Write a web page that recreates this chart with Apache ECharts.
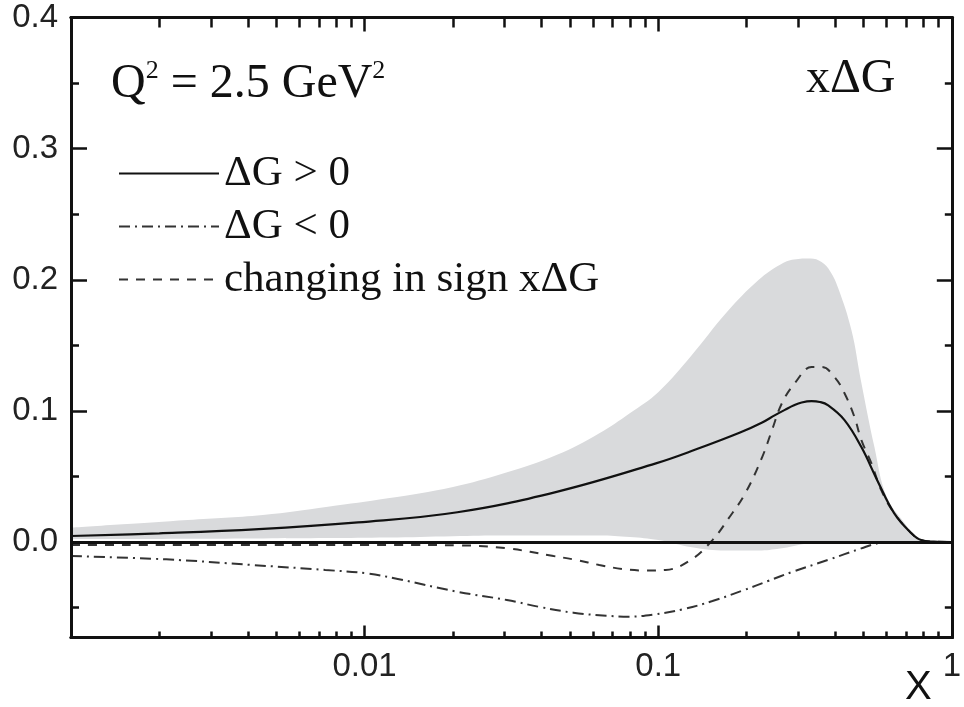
<!DOCTYPE html>
<html>
<head>
<meta charset="utf-8">
<script src="https://cdn.jsdelivr.net/npm/echarts@6/dist/echarts.min.js"></script>
<style>
  html, body { margin: 0; padding: 0; background: #fff; }
  #chart { width: 964px; height: 707px; }
</style>
</head>
<body>
<div id="chart"></div>
<script>
// ---- data ----
const xBand = [0.001, 0.0015, 0.0025, 0.0045, 0.0075, 0.012, 0.02, 0.03, 0.045, 0.063, 0.08, 0.1, 0.13, 0.17, 0.22, 0.26, 0.29, 0.33, 0.36, 0.385, 0.41, 0.455, 0.49, 0.545, 0.6, 0.69, 0.76, 0.83, 1];
const bandUpper = [0.0109, 0.0135, 0.0168, 0.0206, 0.0269, 0.0333, 0.042, 0.0526, 0.0663, 0.083, 0.0983, 0.1143, 0.1425, 0.1745, 0.2, 0.2115, 0.2155, 0.2162, 0.2135, 0.2065, 0.1937, 0.1616, 0.1234, 0.0724, 0.0343, 0.0145, 0.003, 0.0008, 0.0005];
const bandLower = [0.0023, 0.0023, 0.0025, 0.0027, 0.003, 0.0034, 0.0045, 0.005, 0.005, 0.005, 0.0038, 0.0015, -0.004, -0.0065, -0.0065, -0.005, -0.003, -0.0008, 0.0, 0.0003, 0.0004, 0.0004, 0.0004, 0.0004, 0.0004, 0.0004, 0.0004, 0.0004, 0.0004];

const xPos = [0.001, 0.002, 0.00436, 0.00949, 0.0207, 0.0451, 0.0982, 0.134, 0.19, 0.226, 0.25, 0.27, 0.29, 0.308, 0.333, 0.355, 0.378, 0.431, 0.492, 0.557, 0.636, 0.727, 0.786, 0.869, 1];
const yPos = [0.0046, 0.0066, 0.0098, 0.015, 0.0227, 0.0383, 0.060, 0.0705, 0.0835, 0.0912, 0.0968, 0.1008, 0.1043, 0.1064, 0.1074, 0.1068, 0.1044, 0.093, 0.0724, 0.0472, 0.0221, 0.0069, 0.0015, 0.0003, 0];

const xNeg = [0.001, 0.00211, 0.00413, 0.00734, 0.01026, 0.01297, 0.0207, 0.0305, 0.0395, 0.0514, 0.0665, 0.0796, 0.0959, 0.1212, 0.153, 0.1934, 0.2367, 0.2876, 0.378, 0.492, 0.557, 0.612];
const yNeg = [-0.0107, -0.0132, -0.0175, -0.0213, -0.024, -0.0282, -0.0379, -0.0442, -0.0495, -0.0539, -0.0562, -0.0569, -0.0554, -0.0513, -0.045, -0.0371, -0.0297, -0.0226, -0.0137, -0.0048, -0.001, 0];

const xSign = [0.001, 0.0148, 0.0207, 0.0305, 0.044, 0.0527, 0.063, 0.0759, 0.0907, 0.106, 0.129, 0.153, 0.173, 0.198, 0.226, 0.244, 0.264, 0.292, 0.333, 0.361, 0.399, 0.431, 0.466, 0.492, 0.532, 0.575, 0.636, 0.727, 0.786, 0.869, 1];
const ySign = [-0.0023, -0.0023, -0.0025, -0.0048, -0.0107, -0.0137, -0.0175, -0.0206, -0.0217, -0.0213, -0.0137, 0.0015, 0.0175, 0.0373, 0.0648, 0.0853, 0.106, 0.1212, 0.1334, 0.1334, 0.1257, 0.1135, 0.0953, 0.0777, 0.0602, 0.0396, 0.0221, 0.0069, 0.0015, 0.0003, 0];

const xMajorTicks = [0.001, 0.01, 0.1, 1];
const xMinorTicks = [0.002, 0.003, 0.004, 0.005, 0.006, 0.007, 0.008, 0.009,
                     0.02, 0.03, 0.04, 0.05, 0.06, 0.07, 0.08, 0.09,
                     0.2, 0.3, 0.4, 0.5, 0.6, 0.7, 0.8, 0.9];
const xTickLabels = [0.01, 0.1, 1];
const yTickLabels = [0, 0.1, 0.2, 0.3, 0.4];
const yMinorTicks = [-0.05, 0.05, 0.15, 0.25, 0.35];

const seriesNames = ['\u0394G > 0', '\u0394G < 0', 'changing in sign x\u0394G'];
// ---------------------------------------

const X_MIN = 0.001, X_MAX = 1, Y_MIN = -0.0728, Y_MAX = 0.4;
const INK = '#111';
const SANS = 'Liberation Sans';
const SERIF = 'Liberation Serif';
const BAND = '#d9dadc';

const pairs = (xs, ys) => xs.map((x, i) => [x, ys[i]]);

function xAxisDef(pos, ticks, len, labels) {
  return {
    type: 'log', logBase: 10, min: X_MIN, max: X_MAX, position: pos, gridIndex: 0, z: 10,
    axisLine: { show: true, onZero: false, lineStyle: { color: INK, width: 3 } },
    axisTick: { show: true, inside: true, length: len, customValues: ticks, lineStyle: { color: INK, width: 2.5 } },
    axisLabel: labels ? {
      show: true, customValues: labels, margin: 13, fontSize: 33, fontFamily: SANS, color: '#222',
      formatter: v => String(+v.toPrecision(3))
    } : { show: false },
    splitLine: { show: false }, minorTick: { show: false }, minorSplitLine: { show: false }
  };
}
function yAxisDef(pos, ticks, len, labels) {
  return {
    type: 'value', min: Y_MIN, max: Y_MAX, position: pos, gridIndex: 0, z: 10,
    axisLine: { show: true, onZero: false, lineStyle: { color: INK, width: 3 } },
    axisTick: { show: true, inside: true, length: len, customValues: ticks, lineStyle: { color: INK, width: 2.5 } },
    axisLabel: labels ? {
      show: true, customValues: labels, margin: 13, fontSize: 33, fontFamily: SANS, color: '#222',
      formatter: v => v.toFixed(1)
    } : { show: false },
    splitLine: { show: false }
  };
}

const chart = echarts.init(document.getElementById('chart'), null, { renderer: 'canvas' });

const option = {
  animation: false,
  backgroundColor: '#fff',
  grid: { left: 71, right: 6, top: 17.5, bottom: 69.5, containLabel: false },
  title: [
    {
      text: '{q|Q}{s|2}{q| = 2.5 GeV}{s|2}', left: 111, top: 58, padding: 0,
      textStyle: {
        fontWeight: 'normal',
        rich: {
          q: { fontSize: 48, fontFamily: SERIF, color: INK, fontWeight: 'normal', lineHeight: 52 },
          s: { fontSize: 26, fontFamily: SERIF, color: INK, fontWeight: 'normal', lineHeight: 16, verticalAlign: 'top' }
        }
      }
    },
    {
      text: 'x\u0394G', left: 806, top: 53, padding: 0,
      textStyle: { fontSize: 48, fontFamily: SERIF, color: INK, fontWeight: 'normal', lineHeight: 52 }
    }
  ],
  legend: {
    orient: 'vertical', left: 118, top: 152, padding: 0,
    itemWidth: 100, itemHeight: 14, itemGap: 10,
    data: seriesNames,
    itemStyle: { opacity: 0 },
    textStyle: { fontSize: 43, fontFamily: SERIF, color: INK, lineHeight: 43 },
    selectedMode: false
  },
  xAxis: [
    xAxisDef('bottom', xMajorTicks, 12, xTickLabels),
    xAxisDef('bottom', xMinorTicks, 6, null),
    xAxisDef('top', xMajorTicks, 14, null),
    xAxisDef('top', xMinorTicks, 10, null)
  ],
  yAxis: [
    yAxisDef('left', yTickLabels, 16, yTickLabels),
    yAxisDef('left', yMinorTicks, 8, null),
    yAxisDef('right', yTickLabels, 15, null),
    yAxisDef('right', yMinorTicks, 7, null)
  ],
  graphic: [
    { type: 'text', left: 905, top: 668, style: { text: 'X', font: '40px "Liberation Sans"', fill: INK } }
  ],
  series: [
    {
      // upper edge of the uncertainty band, filled down to the axis
      name: 'band-upper', type: 'line', silent: true, z: 1,
      data: pairs(xBand, bandUpper), smooth: 0.4, symbol: 'none',
      lineStyle: { width: 0, opacity: 0 },
      areaStyle: { color: BAND, opacity: 1, origin: 'start' }
    },
    {
      // lower edge of the band: background fill below it
      name: 'band-lower', type: 'line', silent: true, z: 1,
      data: pairs(xBand, bandLower), smooth: 0.4, symbol: 'none',
      lineStyle: { width: 0, opacity: 0 },
      areaStyle: { color: '#ffffff', opacity: 1, origin: 'start' }
    },
    {
      name: seriesNames[0], type: 'line', data: pairs(xPos, yPos), smooth: 0.4, symbol: 'none', z: 5,
      itemStyle: { color: INK },
      lineStyle: { color: INK, width: 2.2, type: 'solid' },
      markLine: {
        silent: true, symbol: ['none', 'none'], label: { show: false },
        lineStyle: { color: INK, width: 3, type: 'solid' },
        data: [{ yAxis: 0 }]
      }
    },
    {
      name: seriesNames[1], type: 'line', data: pairs(xNeg, yNeg), smooth: 0.4, symbol: 'none', z: 4,
      itemStyle: { color: '#333' },
      lineStyle: { color: '#333', width: 2, type: [11, 5, 2, 5] }
    },
    {
      name: seriesNames[2], type: 'line', data: pairs(xSign, ySign), smooth: 0.4, symbol: 'none', z: 4,
      itemStyle: { color: '#333' },
      lineStyle: { color: '#333', width: 2, type: [9, 8] }
    }
  ]
};
chart.setOption(option);
</script>
</body>
</html>
